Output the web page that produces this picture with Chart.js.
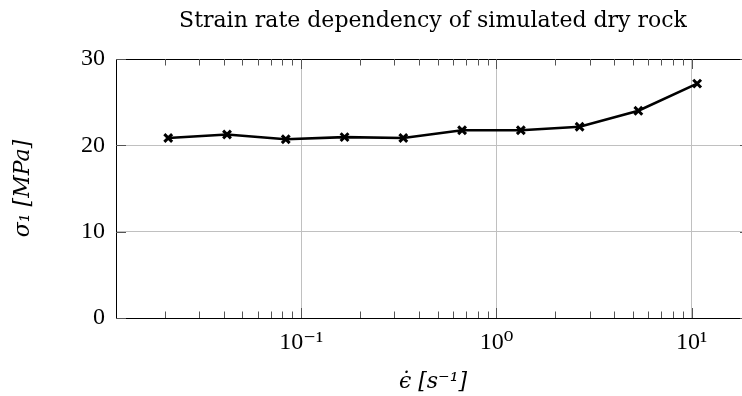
<!DOCTYPE html>
<html>
<head>
<meta charset="utf-8">
<script src="https://cdn.jsdelivr.net/npm/chart.js@4"></script>
<style>
  html, body { margin: 0; padding: 0; overflow: hidden; background: #fff; }
  #wrap { width: 760px; height: 396px; }
</style>
</head>
<body>
<div id="wrap"><canvas id="chart" width="760" height="396"></canvas></div>
<script>
// strain rates (1/s) and peak stress (MPa)
const rates = [0.02083, 0.04167, 0.08333, 0.16667, 0.33333, 0.66667, 1.33333, 2.66667, 5.33333, 10.66667];
const stress = [20.85, 21.25, 20.7, 20.95, 20.85, 21.75, 21.75, 22.15, 24.0, 27.15];
const yTicks = [0, 10, 20, 30];
const xMajor = [0.1, 1, 10];
const xMajorLabels = ['10⁻¹', '10⁰', '10¹'];

const serif = "'Liberation Serif', 'DejaVu Serif', serif";
const wideSerif = "'DejaVu Serif', serif";
const gridGrey = '#c0c0c0';

let isDecade = (v) => Math.abs(Math.log10(v) - Math.round(Math.log10(v))) < 1e-6;
let isLogStep = (v) => {
    const p = Math.pow(10, Math.floor(Math.log10(v) + 1e-9));
    const s = v / p;
    return Math.abs(s - Math.round(s)) < 1e-6;
};

// frame + inward ticks like pgfplots
const framePlugin = {
    id: 'frame',
    afterDraw(chart) {
        const {ctx, chartArea: a, scales} = chart;
        ctx.save();
        ctx.strokeStyle = '#000';
        ctx.lineWidth = 1;
        ctx.strokeRect(a.left + 0.5, a.top + 0.5, a.right - a.left, a.bottom - a.top);
        ctx.beginPath();
        scales.x.ticks.forEach(t => {
            if (!isLogStep(t.value)) return;
            const len = isDecade(t.value) ? 10 : 6.5;
            const px = Math.round(scales.x.getPixelForValue(t.value)) + 0.5;
            ctx.moveTo(px, a.bottom); ctx.lineTo(px, a.bottom - len);
            ctx.moveTo(px, a.top); ctx.lineTo(px, a.top + len);
        });
        yTicks.forEach(v => {
            const py = Math.round(scales.y.getPixelForValue(v)) + 0.5;
            ctx.moveTo(a.left, py); ctx.lineTo(a.left + 10, py);
            ctx.moveTo(a.right, py); ctx.lineTo(a.right - 10, py);
        });
        ctx.strokeStyle = '#555';
        ctx.stroke();
        ctx.restore();
    }
};

const data = {
    datasets: [{
        data: rates.map((r, i) => ({x: r, y: stress[i]})),
        borderColor: '#000',
        backgroundColor: '#000',
        borderWidth: 2.6,
        tension: 0,
        pointStyle: 'crossRot',
        pointRadius: 5.5,
        pointBorderWidth: 3,
        pointBorderColor: '#000'
    }]
};

const config = {
    type: 'line',
    data: data,
    options: {
        responsive: false,
        animation: false,
        devicePixelRatio: 1,
        layout: { padding: { left: 0, right: 8, top: 0, bottom: 0 } },
        plugins: { legend: { display: false }, tooltip: { enabled: false } },
        scales: {
            x: {
                type: 'logarithmic',
                position: 'bottom',
                min: 0.01125,
                max: 19.9,
                afterFit: (s) => { s.height = 78; },
                border: { display: false },
                grid: {
                    drawTicks: false,
                    color: (c) => (c.tick && isDecade(c.tick.value)) ? gridGrey : 'rgba(0,0,0,0)',
                    lineWidth: 1
                },
                ticks: {
                    autoSkip: false,
                    maxRotation: 0,
                    padding: 10,
                    color: '#000',
                    font: { family: serif, size: 24 },
                    callback: (v) => {
                        const i = xMajor.findIndex(m => Math.abs(m - v) / m < 1e-6);
                        return i >= 0 ? xMajorLabels[i] : '';
                    }
                },
                title: {
                    display: true,
                    text: 'ϵ̇ [s⁻¹]',
                    color: '#000',
                    font: { family: wideSerif, size: 22, style: 'italic' },
                    padding: { top: 0, bottom: 1 }
                }
            },
            x2: {
                type: 'logarithmic',
                position: 'top',
                min: 0.01125,
                max: 19.9,
                afterFit: (s) => { s.height = 59; },
                border: { display: false },
                grid: { display: false, drawTicks: false },
                ticks: { display: false },
                title: {
                    display: true,
                    text: 'Strain rate dependency of simulated dry rock',
                    color: '#000',
                    font: { family: wideSerif, size: 22 },
                    padding: { top: 8, bottom: 0 }
                }
            },
            y: {
                min: 0,
                max: 30,
                afterFit: (s) => { s.width = 116; },
                afterBuildTicks: (s) => { s.ticks = yTicks.map(v => ({value: v})); },
                border: { display: false },
                grid: {
                    drawTicks: false,
                    color: (c) => (c.tick && c.tick.value > 0 && c.tick.value < 30) ? gridGrey : 'rgba(0,0,0,0)',
                    lineWidth: 1
                },
                ticks: {
                    padding: 11,
                    color: '#000',
                    font: { family: serif, size: 24 }
                },
                title: {
                    display: true,
                    text: 'σ₁ [MPa]',
                    color: '#000',
                    font: { family: wideSerif, size: 22, style: 'italic' },
                    padding: { top: 10, bottom: 0 }
                }
            }
        }
    },
    plugins: [framePlugin]
};

const chart = new Chart(document.getElementById('chart'), config);
</script>
</body>
</html>
